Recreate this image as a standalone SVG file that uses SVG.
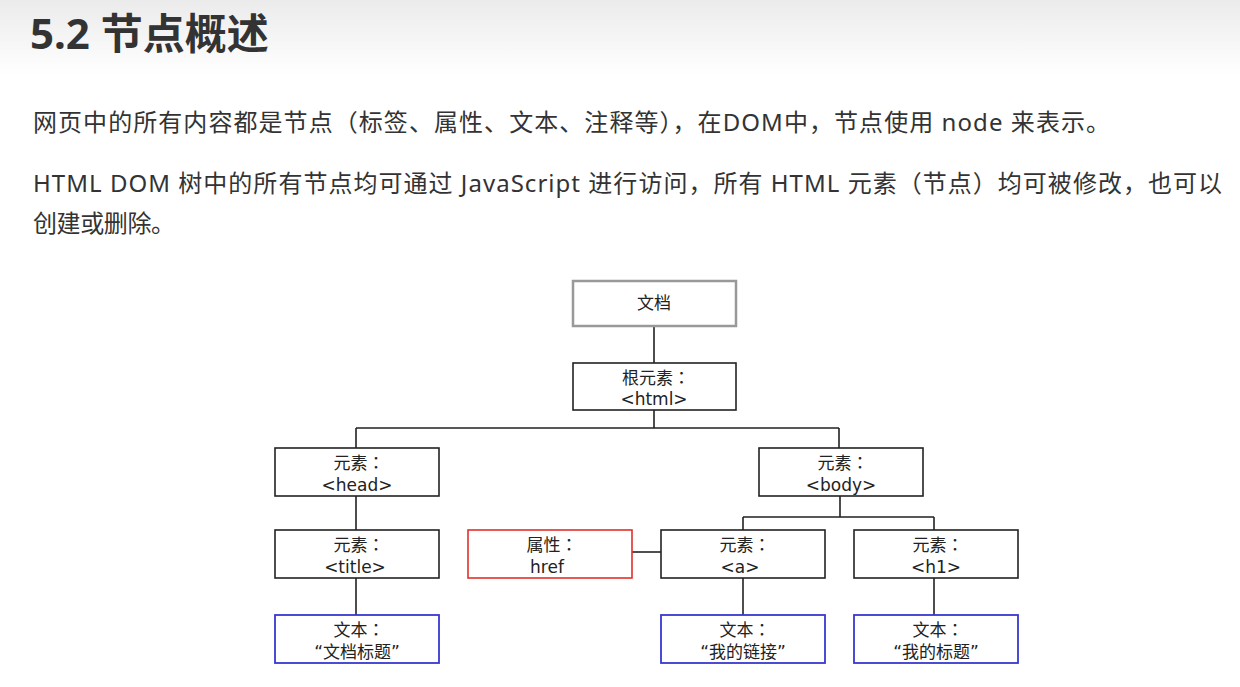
<svg xmlns="http://www.w3.org/2000/svg" width="1240" height="687" viewBox="0 0 1240 687">
<defs>
<linearGradient id="bg" x1="0" y1="0" x2="0" y2="1">
<stop offset="0" stop-color="#ebebeb"/>
<stop offset="1" stop-color="#ffffff"/>
</linearGradient>
</defs>
<style>
.title{font-family:"Noto Sans","Noto Sans CJK SC",sans-serif;font-weight:bold;font-size:42px;fill:#333}
.para{font-family:"Noto Sans","Noto Sans CJK SC",sans-serif;font-size:24px;fill:#333}
.box{fill:#fff;stroke:#222;stroke-width:1.6}
.doc{fill:#fff;stroke:#999;stroke-width:2.5}
.attr{fill:#fff;stroke:#e0302a;stroke-width:1.6}
.txt{fill:#fff;stroke:#3838d0;stroke-width:1.8}
.lbl{font-family:"DejaVu Sans","Noto Sans CJK SC",sans-serif;font-size:17px;fill:#222;text-anchor:middle}
.col{font-family:"Noto Sans CJK TC",sans-serif}
.conn{fill:none;stroke:#222;stroke-width:1.6}
</style>
<rect x="0" y="0" width="1240" height="687" fill="#fff"/>
<rect x="0" y="0" width="1240" height="75" fill="url(#bg)"/>
<text class="title" x="30" y="49">5.2 节点概述</text>
<text class="para" x="33" y="131" textLength="1077" lengthAdjust="spacing">网页中的所有内容都是节点（标签、属性、文本、注释等），在DOM中，节点使用 node 来表示。</text>
<text class="para" x="33" y="192" textLength="1189" lengthAdjust="spacing">HTML DOM 树中的所有节点均可通过 JavaScript 进行访问，所有 HTML 元素（节点）均可被修改，也可以</text>
<text class="para" x="33" y="232" textLength="142" lengthAdjust="spacing">创建或删除。</text>

<g id="connectors">
<path class="conn" d="M654 326V363M654 410V428M356 428H839M356 428V448M839 428V448"/>
<path class="conn" d="M356 496V530M356 578V615"/>
<path class="conn" d="M840 496V517M743 517H934M743 517V530M934 517V530"/>
<path class="conn" d="M632 552H661"/>
<path class="conn" d="M743 578V615M934 578V615"/>
</g>

<g id="node-document">
<rect class="doc" x="573" y="281" width="163" height="45"/>
<text class="lbl" x="654" y="309">文档</text>
</g>
<g id="node-html">
<rect class="box" x="573" y="363" width="163" height="47"/>
<text class="lbl" x="656" y="384">根元素<tspan class="col">：</tspan></text>
<text class="lbl" x="654" y="405">&lt;html&gt;</text>
</g>
<g id="node-head">
<rect class="box" x="275" y="448" width="164" height="48"/>
<text class="lbl" x="359" y="469">元素<tspan class="col">：</tspan></text>
<text class="lbl" x="357" y="491">&lt;head&gt;</text>
</g>
<g id="node-body">
<rect class="box" x="759" y="448" width="164" height="48"/>
<text class="lbl" x="843" y="469">元素<tspan class="col">：</tspan></text>
<text class="lbl" x="841" y="491">&lt;body&gt;</text>
</g>
<g id="node-title">
<rect class="box" x="275" y="530" width="164" height="48"/>
<text class="lbl" x="359" y="551">元素<tspan class="col">：</tspan></text>
<text class="lbl" x="355" y="573">&lt;title&gt;</text>
</g>
<g id="node-href">
<rect class="attr" x="468" y="530" width="164" height="48"/>
<text class="lbl" x="552" y="551">属性<tspan class="col">：</tspan></text>
<text class="lbl" x="547" y="573">href</text>
</g>
<g id="node-a">
<rect class="box" x="661" y="530" width="164" height="48"/>
<text class="lbl" x="745" y="551">元素<tspan class="col">：</tspan></text>
<text class="lbl" x="740" y="573">&lt;a&gt;</text>
</g>
<g id="node-h1">
<rect class="box" x="854" y="530" width="164" height="48"/>
<text class="lbl" x="938" y="551">元素<tspan class="col">：</tspan></text>
<text class="lbl" x="936" y="573">&lt;h1&gt;</text>
</g>
<g id="node-text1">
<rect class="txt" x="275" y="615" width="164" height="48"/>
<text class="lbl" x="359" y="636">文本<tspan class="col">：</tspan></text>
<text class="lbl" x="357" y="658">“文档标题”</text>
</g>
<g id="node-text2">
<rect class="txt" x="661" y="615" width="164" height="48"/>
<text class="lbl" x="745" y="636">文本<tspan class="col">：</tspan></text>
<text class="lbl" x="743" y="658">“我的链接”</text>
</g>
<g id="node-text3">
<rect class="txt" x="854" y="615" width="164" height="48"/>
<text class="lbl" x="938" y="636">文本<tspan class="col">：</tspan></text>
<text class="lbl" x="936" y="658">“我的标题”</text>
</g>
</svg>
